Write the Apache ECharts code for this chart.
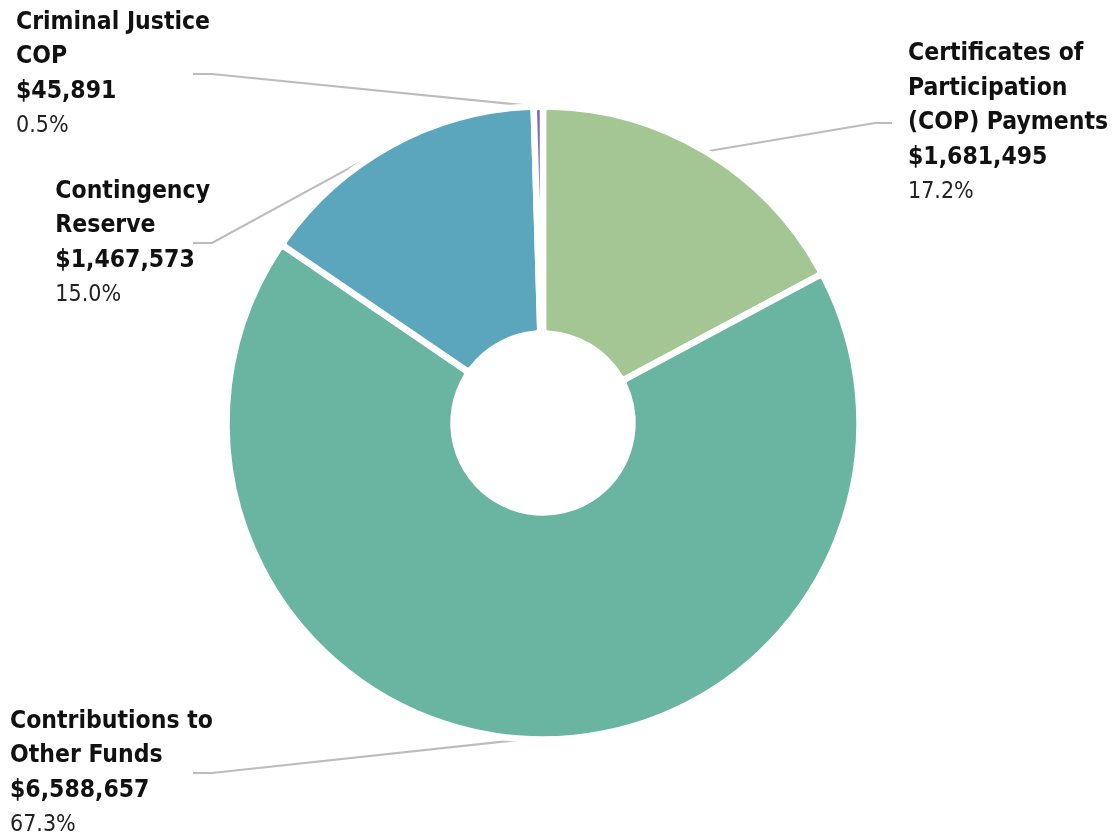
<!DOCTYPE html>
<html>
<head>
<meta charset="utf-8">
<script src="https://cdn.jsdelivr.net/npm/echarts@6/dist/echarts.min.js"></script>
<style>
  html, body { margin: 0; padding: 0; background: #ffffff; }
  #chart { width: 1112px; height: 838px; }
</style>
</head>
<body>
<div id="chart"></div>
<script>
// Budget components (dollars), drawn clockwise from 12 o'clock
const categories = [
  'Certificates of\nParticipation\n(COP) Payments',
  'Contributions to\nOther Funds',
  'Contingency\nReserve',
  'Criminal Justice\nCOP'
];
const amounts = [1681495, 6588657, 1467573, 45891];
const sliceColors = ['#a3c694', '#69b5a2', '#5ba6bc', '#7b68c0'];

const FONT = '"DejaVu Sans Condensed", "Liberation Sans Narrow", "Roboto", sans-serif';
const total = amounts.reduce((a, b) => a + b, 0);

// label anchor y (centre of each label block) and side, in data order
const labelY = [123, 773, 243, 74];
const labelRight = [true, false, false, false];
const LEFT_TEXT_RIGHT = 210, LEFT_MARGIN = 10, LEFT_LINE_END = 193, LEFT_BEND = 212;
const RIGHT_TEXT_LEFT = 908, RIGHT_LINE_END = 892, RIGHT_BEND = 875;

const chart = echarts.init(document.getElementById('chart'), null, { renderer: 'canvas' });

chart.setOption({
  backgroundColor: '#ffffff',
  animation: false,
  series: [{
    type: 'pie',
    center: [543, 423],
    radius: [89.5, 316.5],
    startAngle: 90,
    clockwise: true,
    avoidLabelOverlap: false,
    data: categories.map((name, i) => ({
      name: name,
      value: amounts[i],
      itemStyle: { color: sliceColors[i] }
    })),
    itemStyle: { borderColor: '#ffffff', borderWidth: 6.5, borderRadius: 5, borderJoin: 'round' },
    label: {
      show: true,
      formatter: (p) => {
        const nameLines = p.name.split('\n').map(s => '{n|' + s + '}').join('\n');
        const money = '$' + p.value.toLocaleString('en-US');
        const pct = (p.value / total * 100).toFixed(1) + '%';
        return nameLines + '\n{n|' + money + '}\n{p|' + pct + '}';
      },
      rich: {
        n: { fontFamily: FONT, fontWeight: 'bold', fontSize: 24.5, lineHeight: 34.5, color: '#111111' },
        p: { fontFamily: FONT, fontWeight: 'normal', fontSize: 23, lineHeight: 34.5, color: '#222222' }
      }
    },
    labelLine: {
      show: true,
      lineStyle: { color: '#bcbcbc', width: 2.2 }
    },
    labelLayout: function (params) {
      const i = params.dataIndex;
      const start = params.labelLinePoints[0];
      const y = labelY[i];
      if (labelRight[i]) {
        return {
          x: RIGHT_TEXT_LEFT,
          y: y,
          align: 'left',
          verticalAlign: 'middle',
          labelLinePoints: [start, [RIGHT_BEND, y], [RIGHT_LINE_END, y]]
        };
      }
      return {
        x: Math.max(LEFT_MARGIN, LEFT_TEXT_RIGHT - params.labelRect.width),
        y: y,
        align: 'left',
        verticalAlign: 'middle',
        labelLinePoints: [start, [LEFT_BEND, y], [LEFT_LINE_END, y]]
      };
    }
  }]
});
</script>
</body>
</html>
